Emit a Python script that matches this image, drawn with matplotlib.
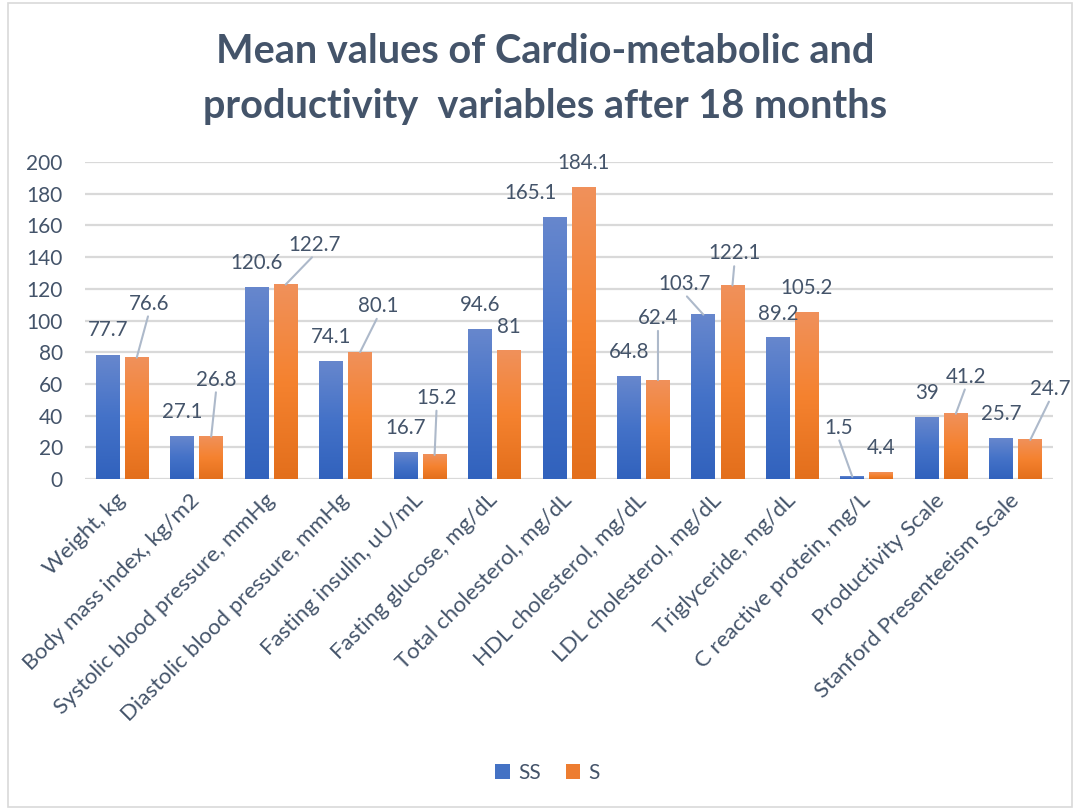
import numpy as np
import matplotlib
matplotlib.use("Agg")
import matplotlib.pyplot as plt
from matplotlib.colors import LinearSegmentedColormap
from matplotlib.patches import Patch, Rectangle

# data
categories = [
    "Weight, kg", "Body mass index, kg/m2", "Systolic blood pressure, mmHg",
    "Diastolic blood pressure, mmHg", "Fasting insulin, uU/mL", "Fasting glucose, mg/dL",
    "Total cholesterol, mg/dL", "HDL cholesterol, mg/dL", "LDL cholesterol, mg/dL",
    "Triglyceride, mg/dL", "C reactive protein, mg/L", "Productivity Scale",
    "Stanford Presenteeism Scale",
]
ss_values = [77.7, 27.1, 120.6, 74.1, 16.7, 94.6, 165.1, 64.8, 103.7, 89.2, 1.5, 39, 25.7]
s_values = [76.6, 26.8, 122.7, 80.1, 15.2, 81, 184.1, 62.4, 122.1, 105.2, 4.4, 41.2, 24.7]
ss_labels = ["77.7", "27.1", "120.6", "74.1", "16.7", "94.6", "165.1", "64.8", "103.7", "89.2", "1.5", "39", "25.7"]
s_labels = ["76.6", "26.8", "122.7", "80.1", "15.2", "81", "184.1", "62.4", "122.1", "105.2", "4.4", "41.2", "24.7"]
series_names = ["SS", "S"]

# label placement (pixel offsets from bar top), leader lines where Excel moved them
ss_dx = [0, 0, 0, 0, 0, 0, -24, 0, -19, 0, -14, 0, 0]
ss_dy = [26, 24, 25, 25, 25, 24, 24, 24, 31, 24, 49, 24, 24]
s_dx = [12, 5, 29, 18, 2, 0, 0, 0, 2, 0, 0, 10, 20]
s_dy = [54, 57, 40, 46, 57, 24, 24, 62, 32, 24, 24, 37, 51]

text_col = "#44546A"
grid_col = "#D9D9D9"
leader_col = "#ADB9CA"
blue_cmap = LinearSegmentedColormap.from_list("b", ["#3162BD", "#4472C8", "#6787CD"])
orange_cmap = LinearSegmentedColormap.from_list("o", ["#E36F1C", "#F5822F", "#F0915B"])

plt.rcParams['font.family'] = ['Lato', 'DejaVu Sans']

fig = plt.figure(figsize=(10.8, 8.1), dpi=100)
ax = fig.add_axes([0.0787, 0.4086, 0.8963, 0.3914])

x = np.arange(len(categories))
w = 0.32
off = 0.195
bars_ss = ax.bar(x - off, ss_values, w, color="none", zorder=3)
bars_s = ax.bar(x + off, s_values, w, color="none", zorder=3)

# gradient fill, light at top, dark at bottom
grad = np.linspace(0, 1, 256).reshape(-1, 1)
for bars, cmap in ((bars_ss, blue_cmap), (bars_s, orange_cmap)):
    for b in bars:
        x0, bw, h = b.get_x(), b.get_width(), b.get_height()
        ax.imshow(grad, extent=(x0, x0 + bw, 0, h), origin="lower", cmap=cmap,
                  aspect="auto", zorder=3, interpolation="bilinear")

# data labels
for bars, labels, dxs, dys in ((bars_ss, ss_labels, ss_dx, ss_dy), (bars_s, s_labels, s_dx, s_dy)):
    for b, lab, dx, dy in zip(bars, labels, dxs, dys):
        xc = b.get_x() + b.get_width() / 2
        arrow = None
        if dy > 30:
            arrow = dict(arrowstyle="-", color=leader_col, lw=1.5, relpos=(0.5, 0.0),
                         shrinkA=0, shrinkB=0)
        ax.annotate(lab, xy=(xc, b.get_height()), xytext=(dx, dy), textcoords="offset pixels",
                    ha="center", va="center", fontsize=14.8, color=text_col,
                    arrowprops=arrow, zorder=5)

ax.set_xlim(-0.5, len(categories) - 0.5)
ax.set_ylim(0, 200)
ax.set_yticks(np.arange(0, 201, 20))
ax.yaxis.grid(True, color=grid_col, lw=1.6, zorder=0)
ax.set_axisbelow(True)
for sp in ax.spines.values():
    sp.set_visible(False)
ax.tick_params(axis="y", length=0, pad=16, labelsize=15, labelcolor=text_col)
ax.tick_params(axis="x", length=0, pad=13, labelsize=16, labelcolor=text_col)
ax.set_xticks(x)
ax.set_xticklabels(categories, rotation=45, ha="right", va="center", rotation_mode="anchor")

fig.text(0.505, 0.936, "Mean values of Cardio-metabolic and", ha="center", va="center",
         fontsize=28.5, fontweight="bold", color=text_col)
fig.text(0.505, 0.868, "productivity  variables after 18 months", ha="center", va="center",
         fontsize=28.5, fontweight="bold", color=text_col)

handles = [Patch(facecolor="#4472C4", label=series_names[0]),
           Patch(facecolor="#ED7D31", label=series_names[1])]
leg = fig.legend(handles=handles, loc="center", bbox_to_anchor=(0.507, 0.046), ncol=2,
                 frameon=False, fontsize=15, handlelength=0.7, handleheight=0.7,
                 handletextpad=0.4, columnspacing=1.2)
for t in leg.get_texts():
    t.set_color(text_col)

fig.patches.append(Rectangle((0.007, 0.004), 0.986, 0.992, transform=fig.transFigure,
                             fill=False, ec=grid_col, lw=1.2))

fig.savefig("out.png", dpi=100)
